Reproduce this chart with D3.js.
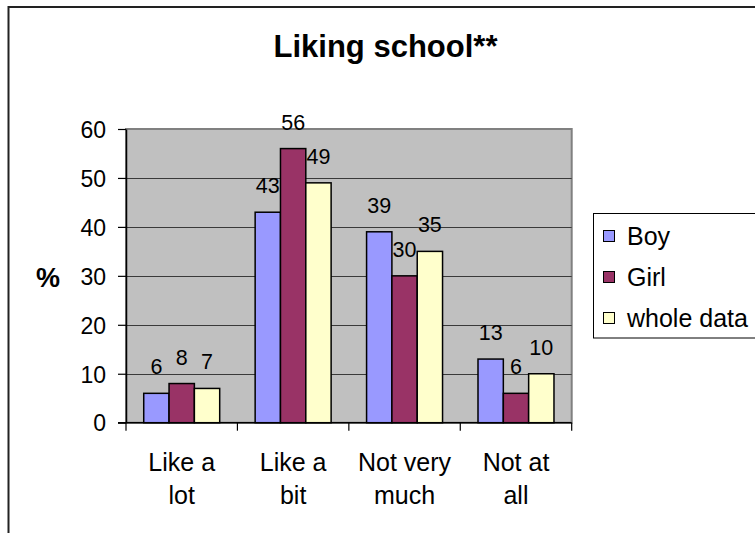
<!DOCTYPE html>
<html>
<head>
<meta charset="utf-8">
<script src="https://cdn.jsdelivr.net/npm/d3@7"></script>
<style>
  html, body { margin: 0; padding: 0; background: #fff; }
  svg { display: block; font-family: Arial, "Liberation Sans", sans-serif; }
</style>
</head>
<body>
<svg id="chart" width="755" height="533"></svg>
<script>
// Survey answers: how much pupils like school (percent)
const categories = [["Like a", "lot"], ["Like a", "bit"], ["Not very", "much"], ["Not at", "all"]];
const seriesNames = ["Boy", "Girl", "whole data"];
const boyValues = [6, 43, 39, 13];
const girlValues = [8, 56, 30, 6];
const wholeValues = [7, 49, 35, 10];
const yTicks = [0, 10, 20, 30, 40, 50, 60];
const seriesColors = ["#9999FF", "#993366", "#FFFFCC"];

const seriesValues = [boyValues, girlValues, wholeValues];
const rows = categories.map((c, i) => ({
  key: i,
  label: c,
  values: seriesNames.map((s, j) => ({ series: s, idx: j, value: seriesValues[j][i] }))
}));

const svg = d3.select("#chart");
const plot = { left: 126, right: 571.7, top: 129, bottom: 422.7 };

// Outer chart frame
svg.append("rect")
  .attr("x", 8.5).attr("y", 7).attr("width", 800).attr("height", 600)
  .attr("fill", "#fff").attr("stroke", "#222").attr("stroke-width", 2);

// Title
svg.append("text")
  .attr("x", 385.5).attr("y", 57)
  .attr("text-anchor", "middle")
  .attr("font-size", 31).attr("font-weight", "bold")
  .text("Liking school**");

// Scales
const x0 = d3.scaleBand()
  .domain(rows.map(r => r.key))
  .range([plot.left, plot.right])
  .paddingInner(0).paddingOuter(0);
const x1 = d3.scaleBand()
  .domain(seriesNames)
  .range([0, x0.bandwidth()])
  .paddingInner(0).paddingOuter(0.7);
const y = d3.scaleLinear().domain([0, 60]).range([plot.bottom, plot.top]);

// Plot area background
svg.append("rect")
  .attr("x", plot.left).attr("y", plot.top)
  .attr("width", plot.right - plot.left).attr("height", plot.bottom - plot.top)
  .attr("fill", "#C0C0C0").attr("stroke", "#808080").attr("stroke-width", 2);

// Gridlines
svg.append("g").selectAll("line")
  .data(yTicks.filter(t => t > 0 && t < 60))
  .join("line")
  .attr("x1", plot.left).attr("x2", plot.right)
  .attr("y1", d => Math.round(y(d)) + 0.5).attr("y2", d => Math.round(y(d)) + 0.5)
  .attr("stroke", "#3a3a3a").attr("stroke-width", 1);

// Bars
const groups = svg.append("g").selectAll("g")
  .data(rows)
  .join("g")
  .attr("transform", d => `translate(${x0(d.key)},0)`);

groups.selectAll("rect")
  .data(d => d.values)
  .join("rect")
  .attr("x", d => x1(d.series))
  .attr("y", d => y(d.value))
  .attr("width", x1.bandwidth())
  .attr("height", d => y(0) - y(d.value))
  .attr("fill", d => seriesColors[d.idx])
  .attr("stroke", "#000").attr("stroke-width", 1.5);

// Value labels
groups.selectAll("text")
  .data(d => d.values)
  .join("text")
  .attr("x", d => x1(d.series) + x1.bandwidth() / 2)
  .attr("y", d => y(d.value) - 19)
  .attr("text-anchor", "middle")
  .attr("font-size", 21.5)
  .text(d => d3.format("d")(d.value));

// Y axis
const yAxis = svg.append("g")
  .attr("transform", `translate(${plot.left},0)`)
  .call(d3.axisLeft(y).tickValues(yTicks).tickSize(8).tickPadding(12).tickSizeOuter(0));
yAxis.select(".domain").attr("stroke", "#000").attr("stroke-width", 1.5);
yAxis.selectAll(".tick line").attr("stroke", "#000").attr("stroke-width", 1.2);
yAxis.selectAll(".tick text")
  .attr("font-size", 23).attr("font-family", "Arial, 'Liberation Sans', sans-serif")
  .attr("fill", "#000").attr("dy", "0.36em");

// X axis baseline with category dividers
svg.append("line")
  .attr("x1", plot.left - 8).attr("x2", plot.right)
  .attr("y1", plot.bottom).attr("y2", plot.bottom)
  .attr("stroke", "#000").attr("stroke-width", 1.5);
const dividers = rows.map(r => x0(r.key)).concat([plot.right]);
svg.append("g").selectAll("line")
  .data(dividers)
  .join("line")
  .attr("x1", d => d).attr("x2", d => d)
  .attr("y1", plot.bottom).attr("y2", plot.bottom + 8)
  .attr("stroke", "#000").attr("stroke-width", 1.2);

// Category labels (two lines each)
const catLabels = svg.append("g").selectAll("text")
  .data(rows)
  .join("text")
  .attr("x", d => x0(d.key) + x0.bandwidth() / 2)
  .attr("y", 471)
  .attr("text-anchor", "middle")
  .attr("font-size", 25);
catLabels.selectAll("tspan")
  .data(d => d.label.map(t => ({ t, x: x0(d.key) + x0.bandwidth() / 2 })))
  .join("tspan")
  .attr("x", d => d.x)
  .attr("dy", (d, i) => i === 0 ? 0 : 32.5)
  .text(d => d.t);

// Y axis title
svg.append("text")
  .attr("x", 48).attr("y", 287)
  .attr("text-anchor", "middle")
  .attr("font-size", 27).attr("font-weight", "bold")
  .text("%");

// Legend
const legend = svg.append("g");
legend.append("rect")
  .attr("x", 593.5).attr("y", 213.5).attr("width", 200).attr("height", 124.5)
  .attr("fill", "#fff").attr("stroke", "#000").attr("stroke-width", 1);
const legendRows = legend.selectAll("g")
  .data(seriesNames)
  .join("g")
  .attr("transform", (d, i) => `translate(603,${236 + i * 41})`);
legendRows.append("rect")
  .attr("x", 0.5).attr("y", -5.5).attr("width", 11).attr("height", 11)
  .attr("fill", (d, i) => seriesColors[i]).attr("stroke", "#000").attr("stroke-width", 1);
legendRows.append("text")
  .attr("x", 24).attr("y", 8.5)
  .attr("font-size", 25)
  .text(d => d);
</script>
</body>
</html>
